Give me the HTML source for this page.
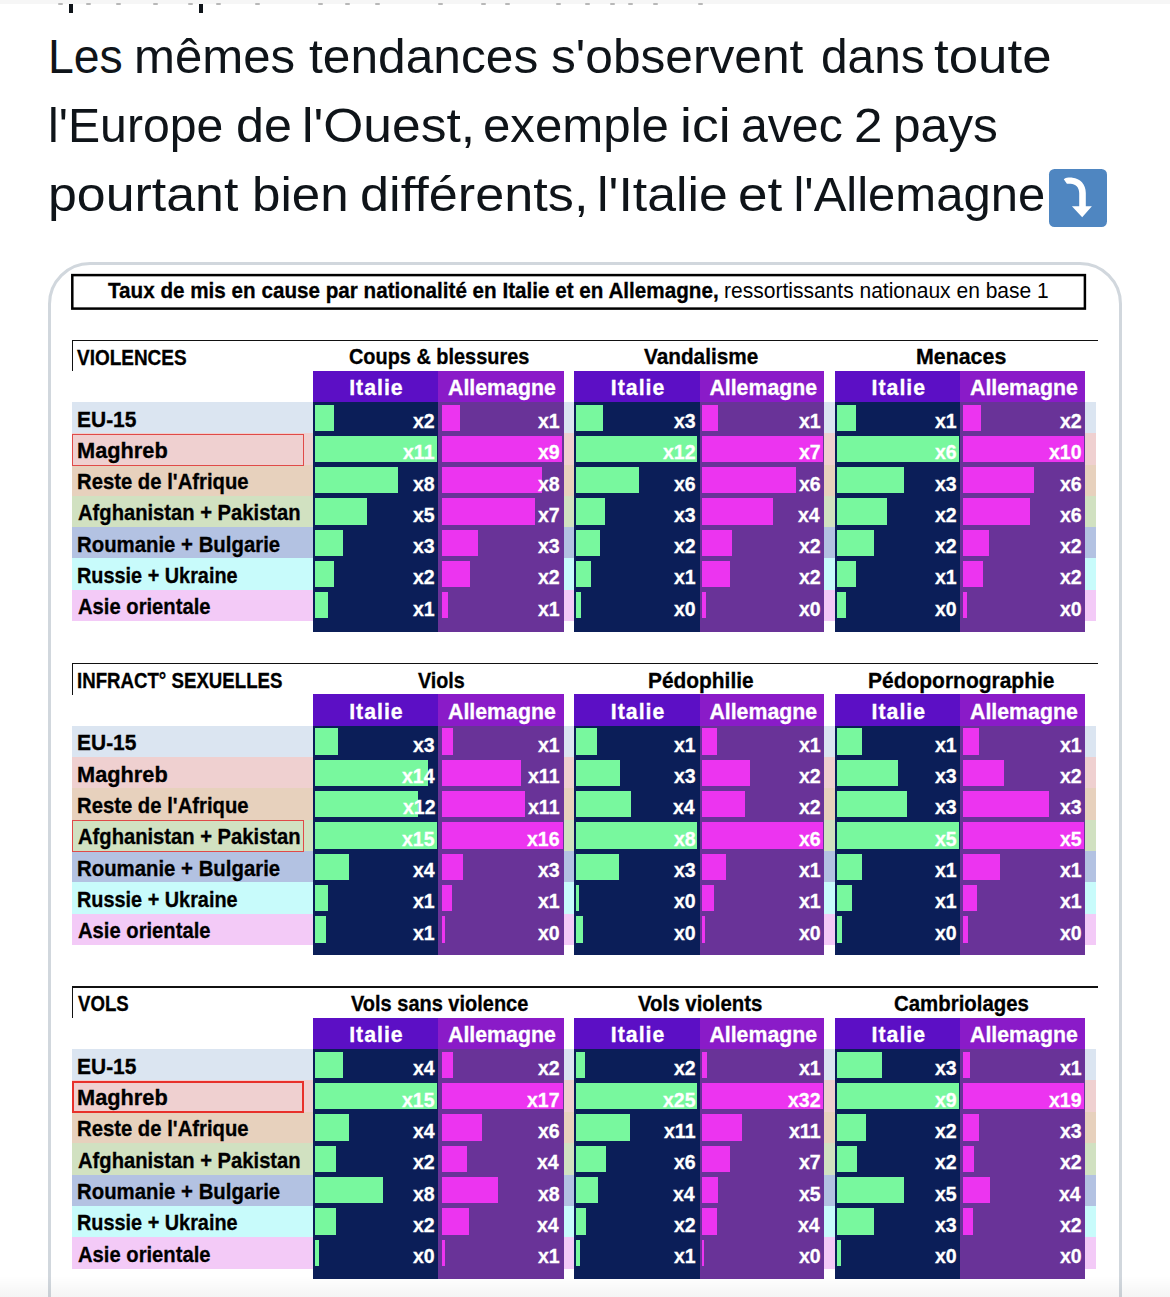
<!DOCTYPE html>
<html><head><meta charset="utf-8">
<style>
html,body{margin:0;padding:0;background:#fff;}
body{width:1170px;height:1297px;overflow:hidden;position:relative;font-family:"Liberation Sans",sans-serif;}
#chart div, #chart span, .abs{position:absolute;}
.t{white-space:nowrap;line-height:21.3px;transform-origin:0 0;-webkit-text-stroke:0.3px currentColor;}
.tw{position:absolute;font-size:49px;line-height:69px;color:#0f1419;white-space:nowrap;transform-origin:0 0;}
</style></head><body>
<div class="abs" style="left:0;top:0;width:1170px;height:3.6px;background:#f6f6f6"></div>
<div class="abs" style="left:57.5px;top:3.3px;width:5px;height:1.6px;background:#b8b8b8;border-radius:1px"></div>
<div class="abs" style="left:85.5px;top:3.3px;width:5px;height:1.6px;background:#b8b8b8;border-radius:1px"></div>
<div class="abs" style="left:115.5px;top:3.3px;width:5px;height:1.6px;background:#b8b8b8;border-radius:1px"></div>
<div class="abs" style="left:152.5px;top:3.3px;width:5px;height:1.6px;background:#b8b8b8;border-radius:1px"></div>
<div class="abs" style="left:187.5px;top:3.3px;width:5px;height:1.6px;background:#b8b8b8;border-radius:1px"></div>
<div class="abs" style="left:215.5px;top:3.3px;width:5px;height:1.6px;background:#b8b8b8;border-radius:1px"></div>
<div class="abs" style="left:254.5px;top:3.3px;width:5px;height:1.6px;background:#b8b8b8;border-radius:1px"></div>
<div class="abs" style="left:317.5px;top:3.3px;width:5px;height:1.6px;background:#b8b8b8;border-radius:1px"></div>
<div class="abs" style="left:344.5px;top:3.3px;width:5px;height:1.6px;background:#b8b8b8;border-radius:1px"></div>
<div class="abs" style="left:374.5px;top:3.3px;width:5px;height:1.6px;background:#b8b8b8;border-radius:1px"></div>
<div class="abs" style="left:437.5px;top:3.3px;width:5px;height:1.6px;background:#b8b8b8;border-radius:1px"></div>
<div class="abs" style="left:480.5px;top:3.3px;width:5px;height:1.6px;background:#b8b8b8;border-radius:1px"></div>
<div class="abs" style="left:504.5px;top:3.3px;width:5px;height:1.6px;background:#b8b8b8;border-radius:1px"></div>
<div class="abs" style="left:555.5px;top:3.3px;width:5px;height:1.6px;background:#b8b8b8;border-radius:1px"></div>
<div class="abs" style="left:584.5px;top:3.3px;width:5px;height:1.6px;background:#b8b8b8;border-radius:1px"></div>
<div class="abs" style="left:609.5px;top:3.3px;width:5px;height:1.6px;background:#b8b8b8;border-radius:1px"></div>
<div class="abs" style="left:627.5px;top:3.3px;width:5px;height:1.6px;background:#b8b8b8;border-radius:1px"></div>
<div class="abs" style="left:652.5px;top:3.3px;width:5px;height:1.6px;background:#b8b8b8;border-radius:1px"></div>
<div class="abs" style="left:697.5px;top:3.3px;width:5px;height:1.6px;background:#b8b8b8;border-radius:1px"></div>
<div class="abs" style="left:68.7px;top:3.8px;width:4.1px;height:9px;background:#0f1419"></div>
<div class="abs" style="left:199px;top:3.8px;width:3.7px;height:9px;background:#0f1419"></div>
<div class="tw" style="left:47.91px;top:22.12px;transform:scaleX(0.9467)">Les</div>
<div class="tw" style="left:134.09px;top:22.12px;transform:scaleX(1.0026)">mêmes</div>
<div class="tw" style="left:309.29px;top:22.12px;transform:scaleX(1.0139)">tendances</div>
<div class="tw" style="left:551.28px;top:22.12px;transform:scaleX(1.0133)">s'observent</div>
<div class="tw" style="left:821.35px;top:22.12px;transform:scaleX(0.9756)">dans</div>
<div class="tw" style="left:934.24px;top:22.12px;transform:scaleX(1.0792)">toute</div>
<div class="tw" style="left:48.45px;top:91.02px;transform:scaleX(0.9838)">l'Europe</div>
<div class="tw" style="left:236.25px;top:91.02px;transform:scaleX(1.0258)">de</div>
<div class="tw" style="left:301.53px;top:91.02px;transform:scaleX(1.0516)">l'Ouest,</div>
<div class="tw" style="left:482.89px;top:91.02px;transform:scaleX(1.0039)">exemple</div>
<div class="tw" style="left:679.69px;top:91.02px;transform:scaleX(1.0932)">ici</div>
<div class="tw" style="left:741.24px;top:91.02px;transform:scaleX(0.9830)">avec</div>
<div class="tw" style="left:854.09px;top:91.02px;transform:scaleX(1.0448)">2</div>
<div class="tw" style="left:893.46px;top:91.02px;transform:scaleX(1.0132)">pays</div>
<div class="tw" style="left:48.31px;top:159.82px;transform:scaleX(1.0584)">pourtant</div>
<div class="tw" style="left:251.66px;top:159.82px;transform:scaleX(1.0429)">bien</div>
<div class="tw" style="left:359.57px;top:159.82px;transform:scaleX(1.0659)">différents,</div>
<div class="tw" style="left:596.51px;top:159.82px;transform:scaleX(1.0566)">l'Italie</div>
<div class="tw" style="left:737.73px;top:159.82px;transform:scaleX(1.0831)">et</div>
<div class="tw" style="left:793.40px;top:159.82px;transform:scaleX(1.0000)">l'Allemagne</div>
<div class="abs" id="emoji" style="left:1049.2px;top:169px;width:57.7px;height:57.5px;border-radius:5.5px;background:#4f86c1"></div>
<svg class="abs" style="left:1049.2px;top:169px" width="58" height="58" viewBox="0 0 58 58"><path d="M14.8,10.2 C17,8.6 20.5,8.5 23.5,8.7 C31,9.3 36.8,15 36.8,24 L36.8,37.2 L42.9,37.2 L33.2,48.3 L22.9,37.2 L30.2,37.2 L30.2,24 C30.2,18.5 26.5,14.8 21.5,14.8 C19.8,14.8 18.6,14.9 17.9,14.8 Z" fill="#fff"/></svg>
<div class="abs" style="left:48px;top:262px;width:1074px;height:1200px;border:3px solid #d1d7dd;border-radius:42px;box-sizing:border-box"></div>
<div class="abs" style="left:0;top:1276px;width:1170px;height:21px;background:linear-gradient(rgba(0,0,0,0),rgba(0,0,0,0.045));z-index:5"></div>
<div id="chart">
<svg style="position:absolute;left:0;top:0" width="1170" height="400"><rect x="72.3" y="275.1" width="1012.6" height="33.5" fill="#fff" stroke="#000" stroke-width="2.5"/></svg>
<span class="t" style="left:108.31px;top:281.27px;font-size:21.3px;line-height:21.3px;font-weight:bold;color:#000;transform:scaleX(0.9698);">Taux de mis en cause par nationalité en Italie et en Allemagne,</span>
<span class="t" style="left:724.22px;top:281.27px;font-size:21.3px;line-height:21.3px;font-weight:normal;color:#000;transform:scaleX(0.9868);-webkit-text-stroke:0">ressortissants nationaux en base 1</span>
<div style="left:72.00px;top:402.05px;width:1024.00px;height:31.55px;background:#dbe5f1;"></div>
<div style="left:72.00px;top:433.30px;width:1024.00px;height:31.55px;background:#efd0d0;"></div>
<div style="left:72.00px;top:464.55px;width:1024.00px;height:31.55px;background:#e7d1bd;"></div>
<div style="left:72.00px;top:495.80px;width:1024.00px;height:31.55px;background:#d1e1c1;"></div>
<div style="left:72.00px;top:527.05px;width:1024.00px;height:31.55px;background:#b3c2e2;"></div>
<div style="left:72.00px;top:558.30px;width:1024.00px;height:31.55px;background:#c8fbfb;"></div>
<div style="left:72.00px;top:589.55px;width:1024.00px;height:31.55px;background:#f3caf7;"></div>
<div style="left:72.00px;top:339.70px;width:1026.00px;height:1.30px;background:#111;"></div>
<div style="left:72.20px;top:339.70px;width:1.30px;height:31.70px;background:#111;"></div>
<span class="t" style="left:77.12px;top:347.57px;font-size:21.3px;line-height:21.3px;font-weight:bold;color:#000;transform:scaleX(0.8903);">VIOLENCES</span>
<div style="left:72.2px;top:433.50px;width:232.2px;height:32.25px;border:1.4px solid #e04a48;box-sizing:border-box"></div>
<span class="t" style="left:77.02px;top:409.67px;font-size:21.3px;line-height:21.3px;font-weight:bold;color:#000;transform:scaleX(0.9846);">EU-15</span>
<span class="t" style="left:76.97px;top:440.92px;font-size:21.3px;line-height:21.3px;font-weight:bold;color:#000;transform:scaleX(1.0220);">Maghreb</span>
<span class="t" style="left:77.07px;top:472.17px;font-size:21.3px;line-height:21.3px;font-weight:bold;color:#000;transform:scaleX(0.9523);">Reste de l'Afrique</span>
<span class="t" style="left:77.93px;top:503.42px;font-size:21.3px;line-height:21.3px;font-weight:bold;color:#000;transform:scaleX(0.9477);">Afghanistan + Pakistan</span>
<span class="t" style="left:77.06px;top:534.67px;font-size:21.3px;line-height:21.3px;font-weight:bold;color:#000;transform:scaleX(0.9563);">Roumanie + Bulgarie</span>
<span class="t" style="left:77.09px;top:565.92px;font-size:21.3px;line-height:21.3px;font-weight:bold;color:#000;transform:scaleX(0.9324);">Russie + Ukraine</span>
<span class="t" style="left:77.93px;top:597.17px;font-size:21.3px;line-height:21.3px;font-weight:bold;color:#000;transform:scaleX(0.9487);">Asie orientale</span>
<div style="left:313.00px;top:370.90px;width:124.60px;height:31.15px;background:#5c0fc5;"></div>
<div style="left:437.60px;top:370.90px;width:126.40px;height:31.15px;background:#8a1bc8;"></div>
<div style="left:313.00px;top:402.05px;width:124.60px;height:229.85px;background:#0b1e58;"></div>
<div style="left:437.60px;top:402.05px;width:126.40px;height:229.85px;background:#693398;"></div>
<span class="t" style="left:348.66px;top:347.47px;font-size:21.3px;line-height:21.3px;font-weight:bold;color:#000;transform:scaleX(0.9346);">Coups &amp; blessures</span>
<span class="t" style="left:349.20px;top:378.37px;font-size:21.3px;line-height:21.3px;font-weight:bold;color:#fff;letter-spacing:1px;transform:scaleX(1.0000)">Italie</span>
<span class="t" style="left:448.05px;top:378.37px;font-size:21.3px;line-height:21.3px;font-weight:bold;color:#fff;letter-spacing:0px;transform:scaleX(1.0000)">Allemagne</span>
<div style="left:314.90px;top:404.65px;width:19.00px;height:26.30px;background:#78f89e;"></div>
<div style="left:441.60px;top:404.65px;width:18.40px;height:26.30px;background:#ec34f0;"></div>
<span class="t" style="left:413.47px;top:410.17px;font-size:21px;line-height:21px;font-weight:bold;color:#fff;transform:scaleX(0.9300)">x2</span>
<span class="t" style="left:537.70px;top:410.17px;font-size:21px;line-height:21px;font-weight:bold;color:#fff;transform:scaleX(0.9300)">x1</span>
<div style="left:314.90px;top:435.90px;width:121.80px;height:26.30px;background:#78f89e;"></div>
<div style="left:441.60px;top:435.90px;width:120.60px;height:26.30px;background:#ec34f0;"></div>
<span class="t" style="left:403.43px;top:441.42px;font-size:21px;line-height:21px;font-weight:bold;color:#fff;transform:scaleX(0.9300)">x11</span>
<span class="t" style="left:537.88px;top:441.42px;font-size:21px;line-height:21px;font-weight:bold;color:#fff;transform:scaleX(0.9300)">x9</span>
<div style="left:314.90px;top:467.15px;width:83.00px;height:26.30px;background:#78f89e;"></div>
<div style="left:441.60px;top:467.15px;width:100.60px;height:26.30px;background:#ec34f0;"></div>
<span class="t" style="left:413.29px;top:472.67px;font-size:21px;line-height:21px;font-weight:bold;color:#fff;transform:scaleX(0.9300)">x8</span>
<span class="t" style="left:537.79px;top:472.67px;font-size:21px;line-height:21px;font-weight:bold;color:#fff;transform:scaleX(0.9300)">x8</span>
<div style="left:314.90px;top:498.40px;width:51.80px;height:26.30px;background:#78f89e;"></div>
<div style="left:441.60px;top:498.40px;width:93.30px;height:26.30px;background:#ec34f0;"></div>
<span class="t" style="left:413.20px;top:503.92px;font-size:21px;line-height:21px;font-weight:bold;color:#fff;transform:scaleX(0.9300)">x5</span>
<span class="t" style="left:537.98px;top:503.92px;font-size:21px;line-height:21px;font-weight:bold;color:#fff;transform:scaleX(0.9300)">x7</span>
<div style="left:314.90px;top:529.65px;width:28.00px;height:26.30px;background:#78f89e;"></div>
<div style="left:441.60px;top:529.65px;width:36.20px;height:26.30px;background:#ec34f0;"></div>
<span class="t" style="left:413.38px;top:535.17px;font-size:21px;line-height:21px;font-weight:bold;color:#fff;transform:scaleX(0.9300)">x3</span>
<span class="t" style="left:537.88px;top:535.17px;font-size:21px;line-height:21px;font-weight:bold;color:#fff;transform:scaleX(0.9300)">x3</span>
<div style="left:314.90px;top:560.90px;width:19.00px;height:26.30px;background:#78f89e;"></div>
<div style="left:441.60px;top:560.90px;width:28.40px;height:26.30px;background:#ec34f0;"></div>
<span class="t" style="left:413.47px;top:566.42px;font-size:21px;line-height:21px;font-weight:bold;color:#fff;transform:scaleX(0.9300)">x2</span>
<span class="t" style="left:537.98px;top:566.42px;font-size:21px;line-height:21px;font-weight:bold;color:#fff;transform:scaleX(0.9300)">x2</span>
<div style="left:314.90px;top:592.15px;width:13.00px;height:26.30px;background:#78f89e;"></div>
<div style="left:441.60px;top:592.15px;width:6.20px;height:26.30px;background:#ec34f0;"></div>
<span class="t" style="left:413.20px;top:597.67px;font-size:21px;line-height:21px;font-weight:bold;color:#fff;transform:scaleX(0.9300)">x1</span>
<span class="t" style="left:537.70px;top:597.67px;font-size:21px;line-height:21px;font-weight:bold;color:#fff;transform:scaleX(0.9300)">x1</span>
<div style="left:574.00px;top:370.90px;width:125.90px;height:31.15px;background:#5c0fc5;"></div>
<div style="left:699.90px;top:370.90px;width:124.50px;height:31.15px;background:#8a1bc8;"></div>
<div style="left:574.00px;top:402.05px;width:125.90px;height:229.85px;background:#0b1e58;"></div>
<div style="left:699.90px;top:402.05px;width:124.50px;height:229.85px;background:#693398;"></div>
<span class="t" style="left:644.20px;top:347.47px;font-size:21.3px;line-height:21.3px;font-weight:bold;color:#000;transform:scaleX(0.9751);">Vandalisme</span>
<span class="t" style="left:610.85px;top:378.37px;font-size:21.3px;line-height:21.3px;font-weight:bold;color:#fff;letter-spacing:1px;transform:scaleX(1.0000)">Italie</span>
<span class="t" style="left:709.40px;top:378.37px;font-size:21.3px;line-height:21.3px;font-weight:bold;color:#fff;letter-spacing:0px;transform:scaleX(1.0000)">Allemagne</span>
<div style="left:576.20px;top:404.65px;width:26.70px;height:26.30px;background:#78f89e;"></div>
<div style="left:702.40px;top:404.65px;width:16.00px;height:26.30px;background:#ec34f0;"></div>
<span class="t" style="left:673.88px;top:410.17px;font-size:21px;line-height:21px;font-weight:bold;color:#fff;transform:scaleX(0.9300)">x3</span>
<span class="t" style="left:798.80px;top:410.17px;font-size:21px;line-height:21px;font-weight:bold;color:#fff;transform:scaleX(0.9300)">x1</span>
<div style="left:576.20px;top:435.90px;width:121.00px;height:26.30px;background:#78f89e;"></div>
<div style="left:702.40px;top:435.90px;width:121.00px;height:26.30px;background:#ec34f0;"></div>
<span class="t" style="left:663.09px;top:441.42px;font-size:21px;line-height:21px;font-weight:bold;color:#fff;transform:scaleX(0.9300)">x12</span>
<span class="t" style="left:799.08px;top:441.42px;font-size:21px;line-height:21px;font-weight:bold;color:#fff;transform:scaleX(0.9300)">x7</span>
<div style="left:576.20px;top:467.15px;width:62.70px;height:26.30px;background:#78f89e;"></div>
<div style="left:702.40px;top:467.15px;width:93.60px;height:26.30px;background:#ec34f0;"></div>
<span class="t" style="left:673.88px;top:472.67px;font-size:21px;line-height:21px;font-weight:bold;color:#fff;transform:scaleX(0.9300)">x6</span>
<span class="t" style="left:798.98px;top:472.67px;font-size:21px;line-height:21px;font-weight:bold;color:#fff;transform:scaleX(0.9300)">x6</span>
<div style="left:576.20px;top:498.40px;width:28.70px;height:26.30px;background:#78f89e;"></div>
<div style="left:702.40px;top:498.40px;width:71.00px;height:26.30px;background:#ec34f0;"></div>
<span class="t" style="left:673.88px;top:503.92px;font-size:21px;line-height:21px;font-weight:bold;color:#fff;transform:scaleX(0.9300)">x3</span>
<span class="t" style="left:798.33px;top:503.92px;font-size:21px;line-height:21px;font-weight:bold;color:#fff;transform:scaleX(0.9300)">x4</span>
<div style="left:576.20px;top:529.65px;width:23.80px;height:26.30px;background:#78f89e;"></div>
<div style="left:702.40px;top:529.65px;width:29.80px;height:26.30px;background:#ec34f0;"></div>
<span class="t" style="left:673.98px;top:535.17px;font-size:21px;line-height:21px;font-weight:bold;color:#fff;transform:scaleX(0.9300)">x2</span>
<span class="t" style="left:799.08px;top:535.17px;font-size:21px;line-height:21px;font-weight:bold;color:#fff;transform:scaleX(0.9300)">x2</span>
<div style="left:576.20px;top:560.90px;width:15.10px;height:26.30px;background:#78f89e;"></div>
<div style="left:702.40px;top:560.90px;width:27.20px;height:26.30px;background:#ec34f0;"></div>
<span class="t" style="left:673.70px;top:566.42px;font-size:21px;line-height:21px;font-weight:bold;color:#fff;transform:scaleX(0.9300)">x1</span>
<span class="t" style="left:799.08px;top:566.42px;font-size:21px;line-height:21px;font-weight:bold;color:#fff;transform:scaleX(0.9300)">x2</span>
<div style="left:576.20px;top:592.15px;width:4.90px;height:26.30px;background:#78f89e;"></div>
<div style="left:702.40px;top:592.15px;width:3.60px;height:26.30px;background:#ec34f0;"></div>
<span class="t" style="left:673.98px;top:597.67px;font-size:21px;line-height:21px;font-weight:bold;color:#fff;transform:scaleX(0.9300)">x0</span>
<span class="t" style="left:799.08px;top:597.67px;font-size:21px;line-height:21px;font-weight:bold;color:#fff;transform:scaleX(0.9300)">x0</span>
<div style="left:835.00px;top:370.90px;width:125.40px;height:31.15px;background:#5c0fc5;"></div>
<div style="left:960.40px;top:370.90px;width:124.80px;height:31.15px;background:#8a1bc8;"></div>
<div style="left:835.00px;top:402.05px;width:125.40px;height:229.85px;background:#0b1e58;"></div>
<div style="left:960.40px;top:402.05px;width:124.80px;height:229.85px;background:#693398;"></div>
<span class="t" style="left:916.40px;top:347.47px;font-size:21.3px;line-height:21.3px;font-weight:bold;color:#000;transform:scaleX(1.0034);">Menaces</span>
<span class="t" style="left:871.60px;top:378.37px;font-size:21.3px;line-height:21.3px;font-weight:bold;color:#fff;letter-spacing:1px;transform:scaleX(1.0000)">Italie</span>
<span class="t" style="left:970.05px;top:378.37px;font-size:21.3px;line-height:21.3px;font-weight:bold;color:#fff;letter-spacing:0px;transform:scaleX(1.0000)">Allemagne</span>
<div style="left:837.10px;top:404.65px;width:18.70px;height:26.30px;background:#78f89e;"></div>
<div style="left:962.90px;top:404.65px;width:17.80px;height:26.30px;background:#ec34f0;"></div>
<span class="t" style="left:935.00px;top:410.17px;font-size:21px;line-height:21px;font-weight:bold;color:#fff;transform:scaleX(0.9300)">x1</span>
<span class="t" style="left:1059.78px;top:410.17px;font-size:21px;line-height:21px;font-weight:bold;color:#fff;transform:scaleX(0.9300)">x2</span>
<div style="left:837.10px;top:435.90px;width:122.00px;height:26.30px;background:#78f89e;"></div>
<div style="left:962.90px;top:435.90px;width:121.00px;height:26.30px;background:#ec34f0;"></div>
<span class="t" style="left:935.18px;top:441.42px;font-size:21px;line-height:21px;font-weight:bold;color:#fff;transform:scaleX(0.9300)">x6</span>
<span class="t" style="left:1048.89px;top:441.42px;font-size:21px;line-height:21px;font-weight:bold;color:#fff;transform:scaleX(0.9300)">x10</span>
<div style="left:837.10px;top:467.15px;width:67.30px;height:26.30px;background:#78f89e;"></div>
<div style="left:962.90px;top:467.15px;width:71.00px;height:26.30px;background:#ec34f0;"></div>
<span class="t" style="left:935.18px;top:472.67px;font-size:21px;line-height:21px;font-weight:bold;color:#fff;transform:scaleX(0.9300)">x3</span>
<span class="t" style="left:1059.68px;top:472.67px;font-size:21px;line-height:21px;font-weight:bold;color:#fff;transform:scaleX(0.9300)">x6</span>
<div style="left:837.10px;top:498.40px;width:49.80px;height:26.30px;background:#78f89e;"></div>
<div style="left:962.90px;top:498.40px;width:67.50px;height:26.30px;background:#ec34f0;"></div>
<span class="t" style="left:935.28px;top:503.92px;font-size:21px;line-height:21px;font-weight:bold;color:#fff;transform:scaleX(0.9300)">x2</span>
<span class="t" style="left:1059.68px;top:503.92px;font-size:21px;line-height:21px;font-weight:bold;color:#fff;transform:scaleX(0.9300)">x6</span>
<div style="left:837.10px;top:529.65px;width:37.30px;height:26.30px;background:#78f89e;"></div>
<div style="left:962.90px;top:529.65px;width:26.40px;height:26.30px;background:#ec34f0;"></div>
<span class="t" style="left:935.28px;top:535.17px;font-size:21px;line-height:21px;font-weight:bold;color:#fff;transform:scaleX(0.9300)">x2</span>
<span class="t" style="left:1059.78px;top:535.17px;font-size:21px;line-height:21px;font-weight:bold;color:#fff;transform:scaleX(0.9300)">x2</span>
<div style="left:837.10px;top:560.90px;width:18.70px;height:26.30px;background:#78f89e;"></div>
<div style="left:962.90px;top:560.90px;width:20.20px;height:26.30px;background:#ec34f0;"></div>
<span class="t" style="left:935.00px;top:566.42px;font-size:21px;line-height:21px;font-weight:bold;color:#fff;transform:scaleX(0.9300)">x1</span>
<span class="t" style="left:1059.78px;top:566.42px;font-size:21px;line-height:21px;font-weight:bold;color:#fff;transform:scaleX(0.9300)">x2</span>
<div style="left:837.10px;top:592.15px;width:8.70px;height:26.30px;background:#78f89e;"></div>
<div style="left:962.90px;top:592.15px;width:3.80px;height:26.30px;background:#ec34f0;"></div>
<span class="t" style="left:935.28px;top:597.67px;font-size:21px;line-height:21px;font-weight:bold;color:#fff;transform:scaleX(0.9300)">x0</span>
<span class="t" style="left:1059.78px;top:597.67px;font-size:21px;line-height:21px;font-weight:bold;color:#fff;transform:scaleX(0.9300)">x0</span>
<div style="left:72.00px;top:725.70px;width:1024.00px;height:31.63px;background:#dbe5f1;"></div>
<div style="left:72.00px;top:757.03px;width:1024.00px;height:31.63px;background:#efd0d0;"></div>
<div style="left:72.00px;top:788.36px;width:1024.00px;height:31.63px;background:#e7d1bd;"></div>
<div style="left:72.00px;top:819.69px;width:1024.00px;height:31.63px;background:#d1e1c1;"></div>
<div style="left:72.00px;top:851.02px;width:1024.00px;height:31.63px;background:#b3c2e2;"></div>
<div style="left:72.00px;top:882.35px;width:1024.00px;height:31.63px;background:#c8fbfb;"></div>
<div style="left:72.00px;top:913.68px;width:1024.00px;height:31.63px;background:#f3caf7;"></div>
<div style="left:72.00px;top:663.20px;width:1026.00px;height:1.30px;background:#111;"></div>
<div style="left:72.20px;top:663.20px;width:1.30px;height:31.70px;background:#111;"></div>
<span class="t" style="left:76.57px;top:671.07px;font-size:21.3px;line-height:21.3px;font-weight:bold;color:#000;transform:scaleX(0.8760);">INFRACT° SEXUELLES</span>
<div style="left:72.2px;top:819.89px;width:232.2px;height:32.33px;border:1.4px solid #e04a48;box-sizing:border-box"></div>
<span class="t" style="left:77.02px;top:733.32px;font-size:21.3px;line-height:21.3px;font-weight:bold;color:#000;transform:scaleX(0.9846);">EU-15</span>
<span class="t" style="left:76.97px;top:764.65px;font-size:21.3px;line-height:21.3px;font-weight:bold;color:#000;transform:scaleX(1.0220);">Maghreb</span>
<span class="t" style="left:77.07px;top:795.98px;font-size:21.3px;line-height:21.3px;font-weight:bold;color:#000;transform:scaleX(0.9523);">Reste de l'Afrique</span>
<span class="t" style="left:77.93px;top:827.31px;font-size:21.3px;line-height:21.3px;font-weight:bold;color:#000;transform:scaleX(0.9477);">Afghanistan + Pakistan</span>
<span class="t" style="left:77.06px;top:858.64px;font-size:21.3px;line-height:21.3px;font-weight:bold;color:#000;transform:scaleX(0.9563);">Roumanie + Bulgarie</span>
<span class="t" style="left:77.09px;top:889.97px;font-size:21.3px;line-height:21.3px;font-weight:bold;color:#000;transform:scaleX(0.9324);">Russie + Ukraine</span>
<span class="t" style="left:77.93px;top:921.30px;font-size:21.3px;line-height:21.3px;font-weight:bold;color:#000;transform:scaleX(0.9487);">Asie orientale</span>
<div style="left:313.00px;top:694.30px;width:124.60px;height:31.40px;background:#5c0fc5;"></div>
<div style="left:437.60px;top:694.30px;width:126.40px;height:31.40px;background:#8a1bc8;"></div>
<div style="left:313.00px;top:725.70px;width:124.60px;height:229.50px;background:#0b1e58;"></div>
<div style="left:437.60px;top:725.70px;width:126.40px;height:229.50px;background:#693398;"></div>
<span class="t" style="left:417.61px;top:670.97px;font-size:21.3px;line-height:21.3px;font-weight:bold;color:#000;transform:scaleX(0.9253);">Viols</span>
<span class="t" style="left:349.20px;top:701.77px;font-size:21.3px;line-height:21.3px;font-weight:bold;color:#fff;letter-spacing:1px;transform:scaleX(1.0000)">Italie</span>
<span class="t" style="left:448.05px;top:701.77px;font-size:21.3px;line-height:21.3px;font-weight:bold;color:#fff;letter-spacing:0px;transform:scaleX(1.0000)">Allemagne</span>
<div style="left:314.90px;top:728.30px;width:23.30px;height:26.30px;background:#78f89e;"></div>
<div style="left:441.60px;top:728.30px;width:11.30px;height:26.30px;background:#ec34f0;"></div>
<span class="t" style="left:413.38px;top:733.82px;font-size:21px;line-height:21px;font-weight:bold;color:#fff;transform:scaleX(0.9300)">x3</span>
<span class="t" style="left:537.70px;top:733.82px;font-size:21px;line-height:21px;font-weight:bold;color:#fff;transform:scaleX(0.9300)">x1</span>
<div style="left:314.90px;top:759.63px;width:112.90px;height:26.30px;background:#78f89e;"></div>
<div style="left:441.60px;top:759.63px;width:79.50px;height:26.30px;background:#ec34f0;"></div>
<span class="t" style="left:401.85px;top:765.15px;font-size:21px;line-height:21px;font-weight:bold;color:#fff;transform:scaleX(0.9300)">x14</span>
<span class="t" style="left:527.93px;top:765.15px;font-size:21px;line-height:21px;font-weight:bold;color:#fff;transform:scaleX(0.9300)">x11</span>
<div style="left:314.90px;top:790.96px;width:103.30px;height:26.30px;background:#78f89e;"></div>
<div style="left:441.60px;top:790.96px;width:83.50px;height:26.30px;background:#ec34f0;"></div>
<span class="t" style="left:402.59px;top:796.48px;font-size:21px;line-height:21px;font-weight:bold;color:#fff;transform:scaleX(0.9300)">x12</span>
<span class="t" style="left:527.93px;top:796.48px;font-size:21px;line-height:21px;font-weight:bold;color:#fff;transform:scaleX(0.9300)">x11</span>
<div style="left:314.90px;top:822.29px;width:121.80px;height:26.30px;background:#78f89e;"></div>
<div style="left:441.60px;top:822.29px;width:121.30px;height:26.30px;background:#ec34f0;"></div>
<span class="t" style="left:402.31px;top:827.81px;font-size:21px;line-height:21px;font-weight:bold;color:#fff;transform:scaleX(0.9300)">x15</span>
<span class="t" style="left:527.00px;top:827.81px;font-size:21px;line-height:21px;font-weight:bold;color:#fff;transform:scaleX(0.9300)">x16</span>
<div style="left:314.90px;top:853.62px;width:34.40px;height:26.30px;background:#78f89e;"></div>
<div style="left:441.60px;top:853.62px;width:21.30px;height:26.30px;background:#ec34f0;"></div>
<span class="t" style="left:412.73px;top:859.14px;font-size:21px;line-height:21px;font-weight:bold;color:#fff;transform:scaleX(0.9300)">x4</span>
<span class="t" style="left:537.88px;top:859.14px;font-size:21px;line-height:21px;font-weight:bold;color:#fff;transform:scaleX(0.9300)">x3</span>
<div style="left:314.90px;top:884.95px;width:13.30px;height:26.30px;background:#78f89e;"></div>
<div style="left:441.60px;top:884.95px;width:10.00px;height:26.30px;background:#ec34f0;"></div>
<span class="t" style="left:413.20px;top:890.47px;font-size:21px;line-height:21px;font-weight:bold;color:#fff;transform:scaleX(0.9300)">x1</span>
<span class="t" style="left:537.70px;top:890.47px;font-size:21px;line-height:21px;font-weight:bold;color:#fff;transform:scaleX(0.9300)">x1</span>
<div style="left:314.90px;top:916.28px;width:10.90px;height:26.30px;background:#78f89e;"></div>
<div style="left:441.60px;top:916.28px;width:3.50px;height:26.30px;background:#ec34f0;"></div>
<span class="t" style="left:413.20px;top:921.80px;font-size:21px;line-height:21px;font-weight:bold;color:#fff;transform:scaleX(0.9300)">x1</span>
<span class="t" style="left:537.98px;top:921.80px;font-size:21px;line-height:21px;font-weight:bold;color:#fff;transform:scaleX(0.9300)">x0</span>
<div style="left:574.00px;top:694.30px;width:125.90px;height:31.40px;background:#5c0fc5;"></div>
<div style="left:699.90px;top:694.30px;width:124.50px;height:31.40px;background:#8a1bc8;"></div>
<div style="left:574.00px;top:725.70px;width:125.90px;height:229.50px;background:#0b1e58;"></div>
<div style="left:699.90px;top:725.70px;width:124.50px;height:229.50px;background:#693398;"></div>
<span class="t" style="left:647.53px;top:670.97px;font-size:21.3px;line-height:21.3px;font-weight:bold;color:#000;transform:scaleX(0.9810);">Pédophilie</span>
<span class="t" style="left:610.85px;top:701.77px;font-size:21.3px;line-height:21.3px;font-weight:bold;color:#fff;letter-spacing:1px;transform:scaleX(1.0000)">Italie</span>
<span class="t" style="left:709.40px;top:701.77px;font-size:21.3px;line-height:21.3px;font-weight:bold;color:#fff;letter-spacing:0px;transform:scaleX(1.0000)">Allemagne</span>
<div style="left:576.20px;top:728.30px;width:21.10px;height:26.30px;background:#78f89e;"></div>
<div style="left:702.40px;top:728.30px;width:14.70px;height:26.30px;background:#ec34f0;"></div>
<span class="t" style="left:673.70px;top:733.82px;font-size:21px;line-height:21px;font-weight:bold;color:#fff;transform:scaleX(0.9300)">x1</span>
<span class="t" style="left:798.80px;top:733.82px;font-size:21px;line-height:21px;font-weight:bold;color:#fff;transform:scaleX(0.9300)">x1</span>
<div style="left:576.20px;top:759.63px;width:43.80px;height:26.30px;background:#78f89e;"></div>
<div style="left:702.40px;top:759.63px;width:47.20px;height:26.30px;background:#ec34f0;"></div>
<span class="t" style="left:673.88px;top:765.15px;font-size:21px;line-height:21px;font-weight:bold;color:#fff;transform:scaleX(0.9300)">x3</span>
<span class="t" style="left:799.08px;top:765.15px;font-size:21px;line-height:21px;font-weight:bold;color:#fff;transform:scaleX(0.9300)">x2</span>
<div style="left:576.20px;top:790.96px;width:54.90px;height:26.30px;background:#78f89e;"></div>
<div style="left:702.40px;top:790.96px;width:42.30px;height:26.30px;background:#ec34f0;"></div>
<span class="t" style="left:673.23px;top:796.48px;font-size:21px;line-height:21px;font-weight:bold;color:#fff;transform:scaleX(0.9300)">x4</span>
<span class="t" style="left:799.08px;top:796.48px;font-size:21px;line-height:21px;font-weight:bold;color:#fff;transform:scaleX(0.9300)">x2</span>
<div style="left:576.20px;top:822.29px;width:121.10px;height:26.30px;background:#78f89e;"></div>
<div style="left:702.40px;top:822.29px;width:121.00px;height:26.30px;background:#ec34f0;"></div>
<span class="t" style="left:673.79px;top:827.81px;font-size:21px;line-height:21px;font-weight:bold;color:#fff;transform:scaleX(0.9300)">x8</span>
<span class="t" style="left:798.98px;top:827.81px;font-size:21px;line-height:21px;font-weight:bold;color:#fff;transform:scaleX(0.9300)">x6</span>
<div style="left:576.20px;top:853.62px;width:42.70px;height:26.30px;background:#78f89e;"></div>
<div style="left:702.40px;top:853.62px;width:23.60px;height:26.30px;background:#ec34f0;"></div>
<span class="t" style="left:673.88px;top:859.14px;font-size:21px;line-height:21px;font-weight:bold;color:#fff;transform:scaleX(0.9300)">x3</span>
<span class="t" style="left:798.80px;top:859.14px;font-size:21px;line-height:21px;font-weight:bold;color:#fff;transform:scaleX(0.9300)">x1</span>
<div style="left:576.20px;top:884.95px;width:2.70px;height:26.30px;background:#78f89e;"></div>
<div style="left:702.40px;top:884.95px;width:11.20px;height:26.30px;background:#ec34f0;"></div>
<span class="t" style="left:673.98px;top:890.47px;font-size:21px;line-height:21px;font-weight:bold;color:#fff;transform:scaleX(0.9300)">x0</span>
<span class="t" style="left:798.80px;top:890.47px;font-size:21px;line-height:21px;font-weight:bold;color:#fff;transform:scaleX(0.9300)">x1</span>
<div style="left:576.20px;top:916.28px;width:6.50px;height:26.30px;background:#78f89e;"></div>
<div style="left:702.40px;top:916.28px;width:2.30px;height:26.30px;background:#ec34f0;"></div>
<span class="t" style="left:673.98px;top:921.80px;font-size:21px;line-height:21px;font-weight:bold;color:#fff;transform:scaleX(0.9300)">x0</span>
<span class="t" style="left:799.08px;top:921.80px;font-size:21px;line-height:21px;font-weight:bold;color:#fff;transform:scaleX(0.9300)">x0</span>
<div style="left:835.00px;top:694.30px;width:125.40px;height:31.40px;background:#5c0fc5;"></div>
<div style="left:960.40px;top:694.30px;width:124.80px;height:31.40px;background:#8a1bc8;"></div>
<div style="left:835.00px;top:725.70px;width:125.40px;height:229.50px;background:#0b1e58;"></div>
<div style="left:960.40px;top:725.70px;width:124.80px;height:229.50px;background:#693398;"></div>
<span class="t" style="left:867.52px;top:670.97px;font-size:21.3px;line-height:21.3px;font-weight:bold;color:#000;transform:scaleX(0.9850);">Pédopornographie</span>
<span class="t" style="left:871.60px;top:701.77px;font-size:21.3px;line-height:21.3px;font-weight:bold;color:#fff;letter-spacing:1px;transform:scaleX(1.0000)">Italie</span>
<span class="t" style="left:970.05px;top:701.77px;font-size:21.3px;line-height:21.3px;font-weight:bold;color:#fff;letter-spacing:0px;transform:scaleX(1.0000)">Allemagne</span>
<div style="left:837.10px;top:728.30px;width:24.70px;height:26.30px;background:#78f89e;"></div>
<div style="left:962.90px;top:728.30px;width:16.00px;height:26.30px;background:#ec34f0;"></div>
<span class="t" style="left:935.00px;top:733.82px;font-size:21px;line-height:21px;font-weight:bold;color:#fff;transform:scaleX(0.9300)">x1</span>
<span class="t" style="left:1059.50px;top:733.82px;font-size:21px;line-height:21px;font-weight:bold;color:#fff;transform:scaleX(0.9300)">x1</span>
<div style="left:837.10px;top:759.63px;width:61.10px;height:26.30px;background:#78f89e;"></div>
<div style="left:962.90px;top:759.63px;width:41.10px;height:26.30px;background:#ec34f0;"></div>
<span class="t" style="left:935.18px;top:765.15px;font-size:21px;line-height:21px;font-weight:bold;color:#fff;transform:scaleX(0.9300)">x3</span>
<span class="t" style="left:1059.78px;top:765.15px;font-size:21px;line-height:21px;font-weight:bold;color:#fff;transform:scaleX(0.9300)">x2</span>
<div style="left:837.10px;top:790.96px;width:69.80px;height:26.30px;background:#78f89e;"></div>
<div style="left:962.90px;top:790.96px;width:86.00px;height:26.30px;background:#ec34f0;"></div>
<span class="t" style="left:935.18px;top:796.48px;font-size:21px;line-height:21px;font-weight:bold;color:#fff;transform:scaleX(0.9300)">x3</span>
<span class="t" style="left:1059.68px;top:796.48px;font-size:21px;line-height:21px;font-weight:bold;color:#fff;transform:scaleX(0.9300)">x3</span>
<div style="left:837.10px;top:822.29px;width:122.00px;height:26.30px;background:#78f89e;"></div>
<div style="left:962.90px;top:822.29px;width:121.00px;height:26.30px;background:#ec34f0;"></div>
<span class="t" style="left:935.00px;top:827.81px;font-size:21px;line-height:21px;font-weight:bold;color:#fff;transform:scaleX(0.9300)">x5</span>
<span class="t" style="left:1059.50px;top:827.81px;font-size:21px;line-height:21px;font-weight:bold;color:#fff;transform:scaleX(0.9300)">x5</span>
<div style="left:837.10px;top:853.62px;width:24.70px;height:26.30px;background:#78f89e;"></div>
<div style="left:962.90px;top:853.62px;width:37.30px;height:26.30px;background:#ec34f0;"></div>
<span class="t" style="left:935.00px;top:859.14px;font-size:21px;line-height:21px;font-weight:bold;color:#fff;transform:scaleX(0.9300)">x1</span>
<span class="t" style="left:1059.50px;top:859.14px;font-size:21px;line-height:21px;font-weight:bold;color:#fff;transform:scaleX(0.9300)">x1</span>
<div style="left:837.10px;top:884.95px;width:14.70px;height:26.30px;background:#78f89e;"></div>
<div style="left:962.90px;top:884.95px;width:13.80px;height:26.30px;background:#ec34f0;"></div>
<span class="t" style="left:935.00px;top:890.47px;font-size:21px;line-height:21px;font-weight:bold;color:#fff;transform:scaleX(0.9300)">x1</span>
<span class="t" style="left:1059.50px;top:890.47px;font-size:21px;line-height:21px;font-weight:bold;color:#fff;transform:scaleX(0.9300)">x1</span>
<div style="left:837.10px;top:916.28px;width:4.70px;height:26.30px;background:#78f89e;"></div>
<div style="left:962.90px;top:916.28px;width:4.90px;height:26.30px;background:#ec34f0;"></div>
<span class="t" style="left:935.28px;top:921.80px;font-size:21px;line-height:21px;font-weight:bold;color:#fff;transform:scaleX(0.9300)">x0</span>
<span class="t" style="left:1059.78px;top:921.80px;font-size:21px;line-height:21px;font-weight:bold;color:#fff;transform:scaleX(0.9300)">x0</span>
<div style="left:72.00px;top:1049.10px;width:1024.00px;height:31.65px;background:#dbe5f1;"></div>
<div style="left:72.00px;top:1080.45px;width:1024.00px;height:31.65px;background:#efd0d0;"></div>
<div style="left:72.00px;top:1111.80px;width:1024.00px;height:31.65px;background:#e7d1bd;"></div>
<div style="left:72.00px;top:1143.15px;width:1024.00px;height:31.65px;background:#d1e1c1;"></div>
<div style="left:72.00px;top:1174.50px;width:1024.00px;height:31.65px;background:#b3c2e2;"></div>
<div style="left:72.00px;top:1205.85px;width:1024.00px;height:31.65px;background:#c8fbfb;"></div>
<div style="left:72.00px;top:1237.20px;width:1024.00px;height:31.65px;background:#f3caf7;"></div>
<div style="left:72.00px;top:986.40px;width:1026.00px;height:1.30px;background:#111;"></div>
<div style="left:72.20px;top:986.40px;width:1.30px;height:31.70px;background:#111;"></div>
<span class="t" style="left:77.63px;top:994.27px;font-size:21.3px;line-height:21.3px;font-weight:bold;color:#000;transform:scaleX(0.8737);">VOLS</span>
<div style="left:72.2px;top:1080.65px;width:232.2px;height:32.35px;border:2.0px solid #e8302a;box-sizing:border-box"></div>
<span class="t" style="left:77.02px;top:1056.72px;font-size:21.3px;line-height:21.3px;font-weight:bold;color:#000;transform:scaleX(0.9846);">EU-15</span>
<span class="t" style="left:76.97px;top:1088.07px;font-size:21.3px;line-height:21.3px;font-weight:bold;color:#000;transform:scaleX(1.0220);">Maghreb</span>
<span class="t" style="left:77.07px;top:1119.42px;font-size:21.3px;line-height:21.3px;font-weight:bold;color:#000;transform:scaleX(0.9523);">Reste de l'Afrique</span>
<span class="t" style="left:77.93px;top:1150.77px;font-size:21.3px;line-height:21.3px;font-weight:bold;color:#000;transform:scaleX(0.9477);">Afghanistan + Pakistan</span>
<span class="t" style="left:77.06px;top:1182.12px;font-size:21.3px;line-height:21.3px;font-weight:bold;color:#000;transform:scaleX(0.9563);">Roumanie + Bulgarie</span>
<span class="t" style="left:77.09px;top:1213.47px;font-size:21.3px;line-height:21.3px;font-weight:bold;color:#000;transform:scaleX(0.9324);">Russie + Ukraine</span>
<span class="t" style="left:77.93px;top:1244.82px;font-size:21.3px;line-height:21.3px;font-weight:bold;color:#000;transform:scaleX(0.9487);">Asie orientale</span>
<div style="left:313.00px;top:1018.00px;width:124.60px;height:31.10px;background:#5c0fc5;"></div>
<div style="left:437.60px;top:1018.00px;width:126.40px;height:31.10px;background:#8a1bc8;"></div>
<div style="left:313.00px;top:1049.10px;width:124.60px;height:229.60px;background:#0b1e58;"></div>
<div style="left:437.60px;top:1049.10px;width:126.40px;height:229.60px;background:#693398;"></div>
<span class="t" style="left:350.91px;top:994.17px;font-size:21.3px;line-height:21.3px;font-weight:bold;color:#000;transform:scaleX(0.9383);">Vols sans violence</span>
<span class="t" style="left:349.20px;top:1025.47px;font-size:21.3px;line-height:21.3px;font-weight:bold;color:#fff;letter-spacing:1px;transform:scaleX(1.0000)">Italie</span>
<span class="t" style="left:448.05px;top:1025.47px;font-size:21.3px;line-height:21.3px;font-weight:bold;color:#fff;letter-spacing:0px;transform:scaleX(1.0000)">Allemagne</span>
<div style="left:314.90px;top:1051.70px;width:28.00px;height:26.30px;background:#78f89e;"></div>
<div style="left:441.60px;top:1051.70px;width:11.10px;height:26.30px;background:#ec34f0;"></div>
<span class="t" style="left:412.73px;top:1057.22px;font-size:21px;line-height:21px;font-weight:bold;color:#fff;transform:scaleX(0.9300)">x4</span>
<span class="t" style="left:537.98px;top:1057.22px;font-size:21px;line-height:21px;font-weight:bold;color:#fff;transform:scaleX(0.9300)">x2</span>
<div style="left:314.90px;top:1083.05px;width:121.80px;height:26.30px;background:#78f89e;"></div>
<div style="left:441.60px;top:1083.05px;width:121.30px;height:26.30px;background:#ec34f0;"></div>
<span class="t" style="left:402.31px;top:1088.57px;font-size:21px;line-height:21px;font-weight:bold;color:#fff;transform:scaleX(0.9300)">x15</span>
<span class="t" style="left:527.09px;top:1088.57px;font-size:21px;line-height:21px;font-weight:bold;color:#fff;transform:scaleX(0.9300)">x17</span>
<div style="left:314.90px;top:1114.40px;width:34.40px;height:26.30px;background:#78f89e;"></div>
<div style="left:441.60px;top:1114.40px;width:40.00px;height:26.30px;background:#ec34f0;"></div>
<span class="t" style="left:412.73px;top:1119.92px;font-size:21px;line-height:21px;font-weight:bold;color:#fff;transform:scaleX(0.9300)">x4</span>
<span class="t" style="left:537.88px;top:1119.92px;font-size:21px;line-height:21px;font-weight:bold;color:#fff;transform:scaleX(0.9300)">x6</span>
<div style="left:314.90px;top:1145.75px;width:20.70px;height:26.30px;background:#78f89e;"></div>
<div style="left:441.60px;top:1145.75px;width:25.10px;height:26.30px;background:#ec34f0;"></div>
<span class="t" style="left:413.47px;top:1151.27px;font-size:21px;line-height:21px;font-weight:bold;color:#fff;transform:scaleX(0.9300)">x2</span>
<span class="t" style="left:537.23px;top:1151.27px;font-size:21px;line-height:21px;font-weight:bold;color:#fff;transform:scaleX(0.9300)">x4</span>
<div style="left:314.90px;top:1177.10px;width:68.00px;height:26.30px;background:#78f89e;"></div>
<div style="left:441.60px;top:1177.10px;width:56.20px;height:26.30px;background:#ec34f0;"></div>
<span class="t" style="left:413.29px;top:1182.62px;font-size:21px;line-height:21px;font-weight:bold;color:#fff;transform:scaleX(0.9300)">x8</span>
<span class="t" style="left:537.79px;top:1182.62px;font-size:21px;line-height:21px;font-weight:bold;color:#fff;transform:scaleX(0.9300)">x8</span>
<div style="left:314.90px;top:1208.45px;width:20.70px;height:26.30px;background:#78f89e;"></div>
<div style="left:441.60px;top:1208.45px;width:27.50px;height:26.30px;background:#ec34f0;"></div>
<span class="t" style="left:413.47px;top:1213.97px;font-size:21px;line-height:21px;font-weight:bold;color:#fff;transform:scaleX(0.9300)">x2</span>
<span class="t" style="left:537.23px;top:1213.97px;font-size:21px;line-height:21px;font-weight:bold;color:#fff;transform:scaleX(0.9300)">x4</span>
<div style="left:314.90px;top:1239.80px;width:4.40px;height:26.30px;background:#78f89e;"></div>
<div style="left:441.60px;top:1239.80px;width:3.50px;height:26.30px;background:#ec34f0;"></div>
<span class="t" style="left:413.47px;top:1245.32px;font-size:21px;line-height:21px;font-weight:bold;color:#fff;transform:scaleX(0.9300)">x0</span>
<span class="t" style="left:537.70px;top:1245.32px;font-size:21px;line-height:21px;font-weight:bold;color:#fff;transform:scaleX(0.9300)">x1</span>
<div style="left:574.00px;top:1018.00px;width:125.90px;height:31.10px;background:#5c0fc5;"></div>
<div style="left:699.90px;top:1018.00px;width:124.50px;height:31.10px;background:#8a1bc8;"></div>
<div style="left:574.00px;top:1049.10px;width:125.90px;height:229.60px;background:#0b1e58;"></div>
<div style="left:699.90px;top:1049.10px;width:124.50px;height:229.60px;background:#693398;"></div>
<span class="t" style="left:637.61px;top:994.17px;font-size:21.3px;line-height:21.3px;font-weight:bold;color:#000;transform:scaleX(0.9589);">Vols violents</span>
<span class="t" style="left:610.85px;top:1025.47px;font-size:21.3px;line-height:21.3px;font-weight:bold;color:#fff;letter-spacing:1px;transform:scaleX(1.0000)">Italie</span>
<span class="t" style="left:709.40px;top:1025.47px;font-size:21.3px;line-height:21.3px;font-weight:bold;color:#fff;letter-spacing:0px;transform:scaleX(1.0000)">Allemagne</span>
<div style="left:576.20px;top:1051.70px;width:8.90px;height:26.30px;background:#78f89e;"></div>
<div style="left:702.40px;top:1051.70px;width:4.70px;height:26.30px;background:#ec34f0;"></div>
<span class="t" style="left:673.98px;top:1057.22px;font-size:21px;line-height:21px;font-weight:bold;color:#fff;transform:scaleX(0.9300)">x2</span>
<span class="t" style="left:798.80px;top:1057.22px;font-size:21px;line-height:21px;font-weight:bold;color:#fff;transform:scaleX(0.9300)">x1</span>
<div style="left:576.20px;top:1083.05px;width:121.00px;height:26.30px;background:#78f89e;"></div>
<div style="left:702.40px;top:1083.05px;width:121.00px;height:26.30px;background:#ec34f0;"></div>
<span class="t" style="left:662.81px;top:1088.57px;font-size:21px;line-height:21px;font-weight:bold;color:#fff;transform:scaleX(0.9300)">x25</span>
<span class="t" style="left:788.19px;top:1088.57px;font-size:21px;line-height:21px;font-weight:bold;color:#fff;transform:scaleX(0.9300)">x32</span>
<div style="left:576.20px;top:1114.40px;width:53.80px;height:26.30px;background:#78f89e;"></div>
<div style="left:702.40px;top:1114.40px;width:39.80px;height:26.30px;background:#ec34f0;"></div>
<span class="t" style="left:663.93px;top:1119.92px;font-size:21px;line-height:21px;font-weight:bold;color:#fff;transform:scaleX(0.9300)">x11</span>
<span class="t" style="left:789.03px;top:1119.92px;font-size:21px;line-height:21px;font-weight:bold;color:#fff;transform:scaleX(0.9300)">x11</span>
<div style="left:576.20px;top:1145.75px;width:30.00px;height:26.30px;background:#78f89e;"></div>
<div style="left:702.40px;top:1145.75px;width:27.20px;height:26.30px;background:#ec34f0;"></div>
<span class="t" style="left:673.88px;top:1151.27px;font-size:21px;line-height:21px;font-weight:bold;color:#fff;transform:scaleX(0.9300)">x6</span>
<span class="t" style="left:799.08px;top:1151.27px;font-size:21px;line-height:21px;font-weight:bold;color:#fff;transform:scaleX(0.9300)">x7</span>
<div style="left:576.20px;top:1177.10px;width:21.40px;height:26.30px;background:#78f89e;"></div>
<div style="left:702.40px;top:1177.10px;width:16.00px;height:26.30px;background:#ec34f0;"></div>
<span class="t" style="left:673.23px;top:1182.62px;font-size:21px;line-height:21px;font-weight:bold;color:#fff;transform:scaleX(0.9300)">x4</span>
<span class="t" style="left:798.80px;top:1182.62px;font-size:21px;line-height:21px;font-weight:bold;color:#fff;transform:scaleX(0.9300)">x5</span>
<div style="left:576.20px;top:1208.45px;width:10.00px;height:26.30px;background:#78f89e;"></div>
<div style="left:702.40px;top:1208.45px;width:14.70px;height:26.30px;background:#ec34f0;"></div>
<span class="t" style="left:673.98px;top:1213.97px;font-size:21px;line-height:21px;font-weight:bold;color:#fff;transform:scaleX(0.9300)">x2</span>
<span class="t" style="left:798.33px;top:1213.97px;font-size:21px;line-height:21px;font-weight:bold;color:#fff;transform:scaleX(0.9300)">x4</span>
<div style="left:576.20px;top:1239.80px;width:3.80px;height:26.30px;background:#78f89e;"></div>
<div style="left:702.40px;top:1239.80px;width:1.40px;height:26.30px;background:#ec34f0;"></div>
<span class="t" style="left:673.70px;top:1245.32px;font-size:21px;line-height:21px;font-weight:bold;color:#fff;transform:scaleX(0.9300)">x1</span>
<span class="t" style="left:799.08px;top:1245.32px;font-size:21px;line-height:21px;font-weight:bold;color:#fff;transform:scaleX(0.9300)">x0</span>
<div style="left:835.00px;top:1018.00px;width:125.40px;height:31.10px;background:#5c0fc5;"></div>
<div style="left:960.40px;top:1018.00px;width:124.80px;height:31.10px;background:#8a1bc8;"></div>
<div style="left:835.00px;top:1049.10px;width:125.40px;height:229.60px;background:#0b1e58;"></div>
<div style="left:960.40px;top:1049.10px;width:124.80px;height:229.60px;background:#693398;"></div>
<span class="t" style="left:893.84px;top:994.17px;font-size:21.3px;line-height:21.3px;font-weight:bold;color:#000;transform:scaleX(0.9583);">Cambriolages</span>
<span class="t" style="left:871.60px;top:1025.47px;font-size:21.3px;line-height:21.3px;font-weight:bold;color:#fff;letter-spacing:1px;transform:scaleX(1.0000)">Italie</span>
<span class="t" style="left:970.05px;top:1025.47px;font-size:21.3px;line-height:21.3px;font-weight:bold;color:#fff;letter-spacing:0px;transform:scaleX(1.0000)">Allemagne</span>
<div style="left:837.10px;top:1051.70px;width:44.70px;height:26.30px;background:#78f89e;"></div>
<div style="left:962.90px;top:1051.70px;width:7.50px;height:26.30px;background:#ec34f0;"></div>
<span class="t" style="left:935.18px;top:1057.22px;font-size:21px;line-height:21px;font-weight:bold;color:#fff;transform:scaleX(0.9300)">x3</span>
<span class="t" style="left:1059.50px;top:1057.22px;font-size:21px;line-height:21px;font-weight:bold;color:#fff;transform:scaleX(0.9300)">x1</span>
<div style="left:837.10px;top:1083.05px;width:122.00px;height:26.30px;background:#78f89e;"></div>
<div style="left:962.90px;top:1083.05px;width:121.00px;height:26.30px;background:#ec34f0;"></div>
<span class="t" style="left:935.18px;top:1088.57px;font-size:21px;line-height:21px;font-weight:bold;color:#fff;transform:scaleX(0.9300)">x9</span>
<span class="t" style="left:1048.80px;top:1088.57px;font-size:21px;line-height:21px;font-weight:bold;color:#fff;transform:scaleX(0.9300)">x19</span>
<div style="left:837.10px;top:1114.40px;width:28.50px;height:26.30px;background:#78f89e;"></div>
<div style="left:962.90px;top:1114.40px;width:16.00px;height:26.30px;background:#ec34f0;"></div>
<span class="t" style="left:935.28px;top:1119.92px;font-size:21px;line-height:21px;font-weight:bold;color:#fff;transform:scaleX(0.9300)">x2</span>
<span class="t" style="left:1059.68px;top:1119.92px;font-size:21px;line-height:21px;font-weight:bold;color:#fff;transform:scaleX(0.9300)">x3</span>
<div style="left:837.10px;top:1145.75px;width:19.80px;height:26.30px;background:#78f89e;"></div>
<div style="left:962.90px;top:1145.75px;width:11.10px;height:26.30px;background:#ec34f0;"></div>
<span class="t" style="left:935.28px;top:1151.27px;font-size:21px;line-height:21px;font-weight:bold;color:#fff;transform:scaleX(0.9300)">x2</span>
<span class="t" style="left:1059.78px;top:1151.27px;font-size:21px;line-height:21px;font-weight:bold;color:#fff;transform:scaleX(0.9300)">x2</span>
<div style="left:837.10px;top:1177.10px;width:67.30px;height:26.30px;background:#78f89e;"></div>
<div style="left:962.90px;top:1177.10px;width:27.50px;height:26.30px;background:#ec34f0;"></div>
<span class="t" style="left:935.00px;top:1182.62px;font-size:21px;line-height:21px;font-weight:bold;color:#fff;transform:scaleX(0.9300)">x5</span>
<span class="t" style="left:1059.03px;top:1182.62px;font-size:21px;line-height:21px;font-weight:bold;color:#fff;transform:scaleX(0.9300)">x4</span>
<div style="left:837.10px;top:1208.45px;width:37.30px;height:26.30px;background:#78f89e;"></div>
<div style="left:962.90px;top:1208.45px;width:10.00px;height:26.30px;background:#ec34f0;"></div>
<span class="t" style="left:935.18px;top:1213.97px;font-size:21px;line-height:21px;font-weight:bold;color:#fff;transform:scaleX(0.9300)">x3</span>
<span class="t" style="left:1059.78px;top:1213.97px;font-size:21px;line-height:21px;font-weight:bold;color:#fff;transform:scaleX(0.9300)">x2</span>
<div style="left:837.10px;top:1239.80px;width:3.60px;height:26.30px;background:#78f89e;"></div>
<span class="t" style="left:935.28px;top:1245.32px;font-size:21px;line-height:21px;font-weight:bold;color:#fff;transform:scaleX(0.9300)">x0</span>
<span class="t" style="left:1059.78px;top:1245.32px;font-size:21px;line-height:21px;font-weight:bold;color:#fff;transform:scaleX(0.9300)">x0</span>
</div>
</body></html>
